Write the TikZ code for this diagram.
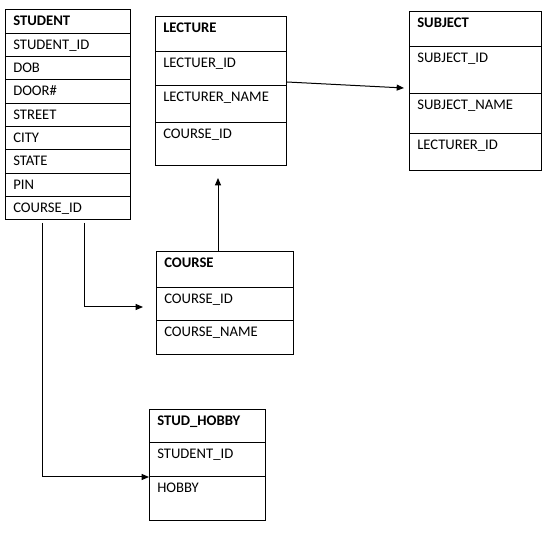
\documentclass[tikz,border=0pt]{standalone}
\usepackage{fontspec}
\setmainfont{Carlito}
\usetikzlibrary{arrows.meta}
\newcommand\cellbox[5]{\node[cell,anchor=north west,minimum width=#4*0.75pt,minimum height=#5*0.75pt] (#1) at (#2,#3) {};}
\begin{document}
\begin{tikzpicture}[x=0.75pt,y=-0.75pt,
  cell/.style={draw,line width=0.75pt,inner sep=0,outer sep=0},
  lbl/.style={anchor=base west,inner sep=0,font=\fontsize{11}{13}\selectfont},
  hdr/.style={anchor=base west,inner sep=0,font=\fontsize{11}{13}\selectfont\bfseries},
  arr/.style={line width=0.75pt,-{Triangle[length=5.5pt,width=4.5pt]}}]
\useasboundingbox (0,0) rectangle (547,534);
% STUDENT
\cellbox{stu1}{5}{10}{125}{23.33}
\cellbox{stu2}{5}{33.33}{125}{23.33}
\cellbox{stu3}{5}{56.67}{125}{23.33}
\cellbox{stu4}{5}{80}{125}{23.33}
\cellbox{stu5}{5}{103.33}{125}{23.33}
\cellbox{stu6}{5}{126.67}{125}{23.33}
\cellbox{stu7}{5}{150}{125}{23.33}
\cellbox{stu8}{5}{173.33}{125}{23.33}
\cellbox{stu9}{5}{196.67}{125}{23.33}
\node[hdr] (stu1t) at (13,26) {STUDENT};
\node[lbl] (stu2t) at (13,49.3) {STUDENT\_ID};
\node[lbl] (stu3t) at (13,72.7) {DOB};
\node[lbl] (stu4t) at (13,96) {DOOR\#};
\node[lbl] (stu5t) at (13,119.3) {STREET};
\node[lbl] (stu6t) at (13,142.7) {CITY};
\node[lbl] (stu7t) at (13,166) {STATE};
\node[lbl] (stu8t) at (13,189.3) {PIN};
\node[lbl] (stu9t) at (13,212.7) {COURSE\_ID};
% LECTURE
\cellbox{lec1}{155}{17}{131}{35}
\cellbox{lec2}{155}{52}{131}{34}
\cellbox{lec3}{155}{86}{131}{37}
\cellbox{lec4}{155}{123}{131}{43}
\node[hdr] (lec1t) at (163,32.5) {LECTURE};
\node[lbl] (lec2t) at (163,67.5) {LECTUER\_ID};
\node[lbl] (lec3t) at (163,101.5) {LECTURER\_NAME};
\node[lbl] (lec4t) at (163,138.5) {COURSE\_ID};
% SUBJECT
\cellbox{sub1}{409}{12}{132}{35}
\cellbox{sub2}{409}{47}{132}{47}
\cellbox{sub3}{409}{94}{132}{40}
\cellbox{sub4}{409}{134}{132}{37}
\node[hdr] (sub1t) at (417,27.5) {SUBJECT};
\node[lbl] (sub2t) at (417,62.5) {SUBJECT\_ID};
\node[lbl] (sub3t) at (417,109.5) {SUBJECT\_NAME};
\node[lbl] (sub4t) at (417,149.5) {LECTURER\_ID};
% COURSE
\cellbox{crs1}{156}{252}{137}{36}
\cellbox{crs2}{156}{288}{137}{33}
\cellbox{crs3}{156}{321}{137}{34}
\node[hdr] (crs1t) at (164,267.5) {COURSE};
\node[lbl] (crs2t) at (164,303.5) {COURSE\_ID};
\node[lbl] (crs3t) at (164,336.5) {COURSE\_NAME};
% STUD_HOBBY
\cellbox{hob1}{149}{410}{116}{33}
\cellbox{hob2}{149}{443}{116}{34}
\cellbox{hob3}{149}{477}{116}{44}
\node[hdr] (hob1t) at (157,425.5) {STUD\_HOBBY};
\node[lbl] (hob2t) at (157,458.5) {STUDENT\_ID};
\node[lbl] (hob3t) at (157,492.5) {HOBBY};
% connector ends
\coordinate (sa) at (42,223);
\coordinate (sb) at (84,223);
\coordinate (crsin) at (143,307);
\coordinate (lecin) at (218,178);
\coordinate (lecout) at (287,82);
\coordinate (subin) at (404,88);
% connectors
\draw[arr] (sa) |- (hob2.south west);
\draw[arr] (sb) |- (crsin);
\draw[arr] (crs1.north -| lecin) -- (lecin);
\draw[arr] (lecout) -- (subin);
\end{tikzpicture}
\end{document}
